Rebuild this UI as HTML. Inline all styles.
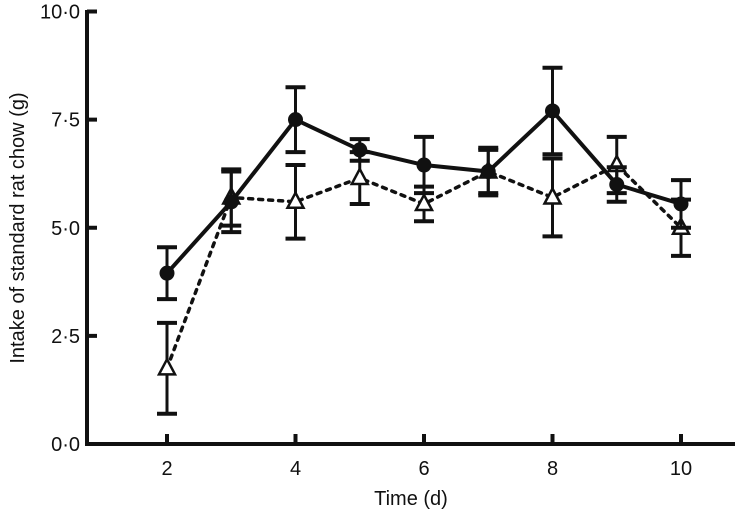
<!DOCTYPE html>
<html><head><meta charset="utf-8"><style>
body{margin:0;background:#fff;width:752px;height:517px;overflow:hidden}
svg text{font-family:"Liberation Sans",sans-serif;fill:#111}
</style></head><body>
<svg id="chart" width="752" height="517" viewBox="0 0 752 517"></svg>
<script>
const days=[2,3,4,5,6,7,8,9,10];
const circleMean=[3.95,5.6,7.5,6.8,6.45,6.3,7.7,6.0,5.55];
const circleErr=[0.6,0.7,0.75,0.25,0.65,0.55,1.0,0.4,0.55];
const triMean=[1.75,5.7,5.6,6.15,5.55,6.3,5.7,6.45,5.0];
const triErr=[1.05,0.65,0.85,0.6,0.4,0.5,0.9,0.65,0.65];
const yTicks=[0,2.5,5,7.5,10];
const yTickLabels=["0·0","2·5","5·0","7·5","10·0"];
const xTicks=[2,4,6,8,10];
const NS="http://www.w3.org/2000/svg";
const svg=document.getElementById('chart');
const X=d=>167+(d-2)*64.25;
const Y=v=>444-v*43.25;
function mk(t,a,p){const e=document.createElementNS(NS,t);for(const k in a)e.setAttribute(k,a[k]);(p||svg).appendChild(e);return e;}
const ax=mk('g',{});


mk('line',{x1:87,y1:10,x2:87,y2:446,stroke:'#111','stroke-width':4},ax);
mk('line',{x1:85,y1:444,x2:735,y2:444,stroke:'#111','stroke-width':4},ax);
yTicks.forEach((v,i)=>{
  mk('line',{x1:87,y1:Y(v),x2:97,y2:Y(v),stroke:'#111','stroke-width':4},ax);
  const t=mk('text',{x:80,y:Y(v)+7,'text-anchor':'end','font-size':20},ax);
  
  
  t.textContent=yTickLabels[i];
});
xTicks.forEach(d=>{
  mk('line',{x1:X(d),y1:444,x2:X(d),y2:434,stroke:'#111','stroke-width':4},ax);
  const t=mk('text',{x:X(d),y:475,'text-anchor':'middle','font-size':20},ax);
  
  
  t.textContent=d;
});
const xt=mk('text',{x:411,y:505,'text-anchor':'middle','font-size':20});


xt.textContent='Time (d)';
const yt=mk('text',{x:0,y:0,'text-anchor':'middle','font-size':20,transform:'translate(24,228) rotate(-90)'});


yt.textContent='Intake of standard rat chow (g)';
function series(mean,err,name,dash,marker){
  const g=mk('g',{});
  
  
  mean.forEach((m,i)=>{
    const x=X(days[i]),t=Y(m+err[i]),b=Y(m-err[i]);
    mk('line',{x1:x,y1:t,x2:x,y2:b,stroke:'#111','stroke-width':3},g);
    mk('line',{x1:x-10,y1:t,x2:x+10,y2:t,stroke:'#111','stroke-width':4},g);
    mk('line',{x1:x-10,y1:b,x2:x+10,y2:b,stroke:'#111','stroke-width':4},g);
  });
  const pl=mk('polyline',{points:mean.map((m,i)=>X(days[i])+','+Y(m)).join(' '),fill:'none',stroke:'#111','stroke-width':dash?3.5:4,'stroke-dasharray':dash?'4 6':'none','stroke-linecap':'round'},g);
  
  
  mean.forEach((m,i)=>{
    const x=X(days[i]),y=Y(m);let e;
    if(marker==='circle')e=mk('circle',{cx:x,cy:y,r:7.5,fill:'#111'},g);
    else e=mk('polygon',{points:`${x},${y-9} ${x-8},${y+6} ${x+8},${y+6}`,fill:'#fff',stroke:'#111','stroke-width':2.5},g);
    
    
  });
}
series(triMean,triErr,'triangle-series',true,'tri');
series(circleMean,circleErr,'circle-series',false,'circle');
</script>
</body></html>
